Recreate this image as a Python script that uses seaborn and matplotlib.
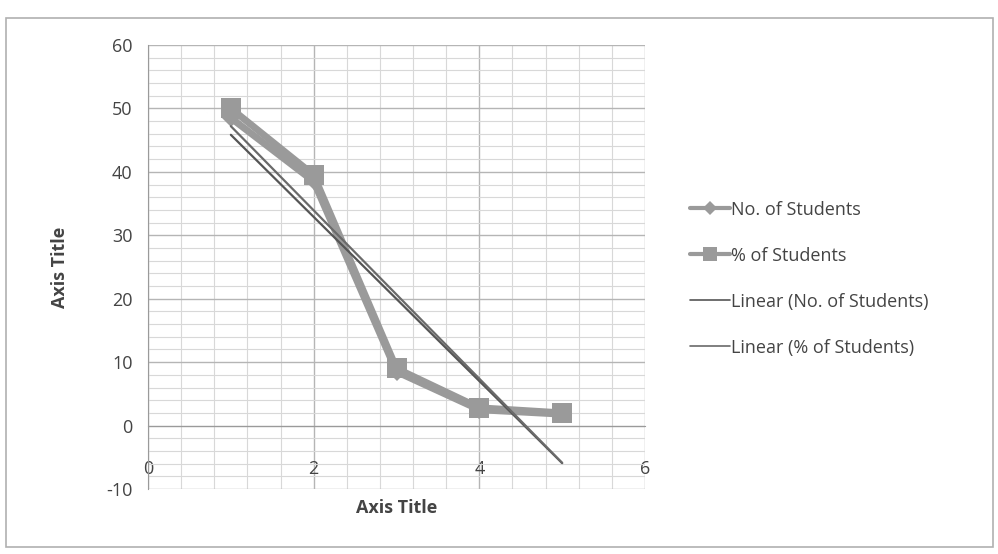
import numpy as np
import pandas as pd
import matplotlib
matplotlib.use('Agg')
import matplotlib.pyplot as plt
from matplotlib.patches import Rectangle
from matplotlib.lines import Line2D
from matplotlib.ticker import MultipleLocator
import seaborn as sns

# Data
positions = [1, 2, 3, 4, 5]
no_of_students = [48.5, 38.5, 8.5, 2.5, 1.8]
pct_of_students = [50.0, 39.5, 9.0, 2.8, 2.0]
series_names = ['No. of Students', '% of Students']
trend_names = ['Linear (No. of Students)', 'Linear (% of Students)']
x_ticks = [0, 2, 4, 6]
y_ticks = [-10, 0, 10, 20, 30, 40, 50, 60]

df = pd.DataFrame({'x': positions, 'no': no_of_students, 'pct': pct_of_students})

sns.set_style('white')
plt.rcParams['font.family'] = ['Open Sans', 'DejaVu Sans']
plt.rcParams['axes.unicode_minus'] = False

fig = plt.figure(figsize=(9.98, 5.54), dpi=100)
ax = fig.add_axes([0.1483, 0.1173, 0.498, 0.8015])

series_grey = '#9a9a9a'
trend_grey = '#555555'

sns.lineplot(data=df, x='x', y='no', ax=ax, color=series_grey, linewidth=5,
             marker='D', markersize=9, markeredgewidth=0, zorder=3)
sns.lineplot(data=df, x='x', y='pct', ax=ax, color=series_grey, linewidth=5,
             marker='s', markersize=15, markeredgewidth=0, zorder=4)

# trend lines
sns.regplot(data=df, x='x', y='no', ax=ax, scatter=False, ci=None,
            line_kws={'color': trend_grey, 'linewidth': 1.6, 'zorder': 5})
sns.regplot(data=df, x='x', y='pct', ax=ax, scatter=False, ci=None,
            line_kws={'color': '#6a6a6a', 'linewidth': 1.6, 'zorder': 5})

ax.set_xlim(0, 6)
ax.set_ylim(-10, 60)
ax.set_xticks(x_ticks)
ax.set_yticks(y_ticks)
ax.xaxis.set_minor_locator(MultipleLocator(0.4))
ax.yaxis.set_minor_locator(MultipleLocator(2))
ax.grid(which='major', color='#b5b5b5', linewidth=1.0)
ax.grid(which='minor', color='#d8d8d8', linewidth=0.8)
ax.set_axisbelow(True)

for side in ['top', 'right']:
    ax.spines[side].set_visible(False)
ax.spines['left'].set_color('#9a9a9a')
ax.spines['bottom'].set_position(('data', 0))
ax.spines['bottom'].set_color('#9a9a9a')

ax.tick_params(axis='y', which='major', length=5, color='#9a9a9a',
               labelsize=13, labelcolor='#444444', pad=6)
ax.tick_params(axis='x', which='major', length=5, color='#9a9a9a',
               labelsize=13, labelcolor='#444444', pad=20)
ax.tick_params(which='minor', length=0)

ax.set_xlabel('Axis Title', fontsize=13, fontweight='bold', color='#444444')
ax.set_ylabel('Axis Title', fontsize=13, fontweight='bold', color='#444444')
ax.xaxis.set_label_coords(0.5, -0.023)
ax.yaxis.set_label_coords(-0.158, 0.5)

handles = [
    Line2D([], [], color=series_grey, linewidth=3, marker='D', markersize=7, markeredgewidth=0),
    Line2D([], [], color=series_grey, linewidth=3, marker='s', markersize=10, markeredgewidth=0),
    Line2D([], [], color=trend_grey, linewidth=1.2),
    Line2D([], [], color='#6a6a6a', linewidth=1.2),
]
fig.legend(handles, series_names + trend_names, loc='center left',
           bbox_to_anchor=(0.675, 0.497), frameon=False, fontsize=13,
           handlelength=2.2, handletextpad=0.1, labelspacing=1.55,
           labelcolor='#444444')

# chart border
fig.patches.append(Rectangle((0.006, 0.013), 0.989, 0.955, transform=fig.transFigure,
                             fill=False, edgecolor='#b0b0b0', linewidth=1.2))

fig.savefig('out.png', dpi=100)
